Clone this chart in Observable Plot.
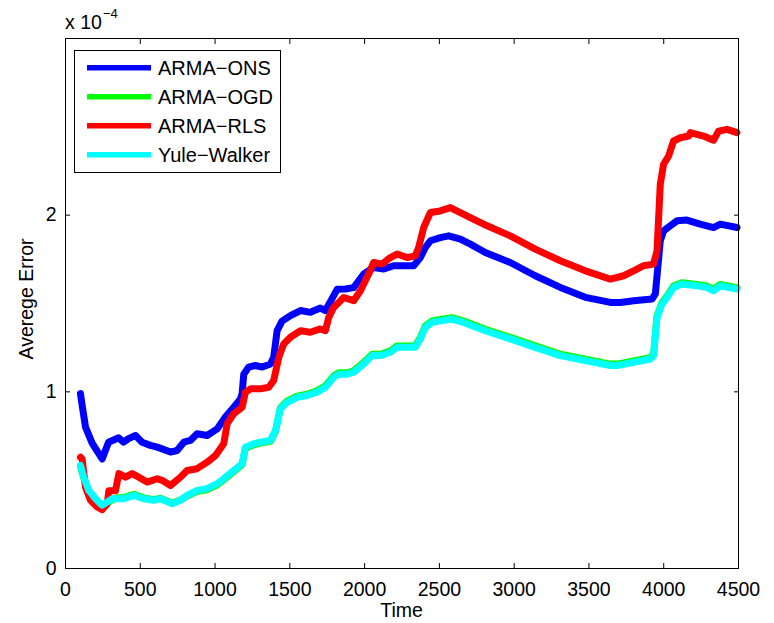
<!DOCTYPE html>
<html>
<head>
<meta charset="utf-8">
<script src="https://cdn.jsdelivr.net/npm/d3@7"></script>
<script src="https://cdn.jsdelivr.net/npm/@observablehq/plot@0.6"></script>
<style>
  html, body { margin: 0; padding: 0; background: #fff; }
  #chart { width: 774px; height: 623px; }
</style>
</head>
<body>
<div id="chart"></div>
<script>
// ---- Data (values in units of 1e-4) ----
const seriesNames = ["ARMA\u2212ONS", "ARMA\u2212OGD", "ARMA\u2212RLS", "Yule\u2212Walker"];
const seriesColors = ["#0000ff", "#00ff00", "#ff0000", "#00ffff"];

const onsX = [100,112,134,178,245,288,355,388,421,468,512,568,613,646,702,746,791,835,880,947,1014,1069,1125,1170,1181,1192,1225,1270,1315,1370,1392,1415,1448,1504,1571,1637,1704,1738,1771,1816,1871,1927,1994,2061,2128,2194,2261,2328,2373,2406,2440,2506,2562,2640,2707,2807,2974,3141,3309,3476,3643,3710,3799,3922,3944,3977,3999,4044,4089,4155,4244,4333,4378,4490];
const onsY = [0.99,0.92,0.80,0.71,0.62,0.715,0.74,0.715,0.735,0.753,0.715,0.697,0.687,0.677,0.659,0.668,0.715,0.725,0.763,0.753,0.79,0.857,0.913,0.96,0.99,1.10,1.14,1.149,1.14,1.158,1.195,1.346,1.40,1.431,1.46,1.45,1.474,1.46,1.51,1.58,1.582,1.59,1.667,1.704,1.695,1.714,1.714,1.714,1.76,1.817,1.855,1.873,1.883,1.864,1.836,1.789,1.732,1.657,1.591,1.535,1.506,1.506,1.516,1.525,1.554,1.855,1.911,1.94,1.968,1.972,1.949,1.93,1.949,1.93];

const ywX = [100,122,156,201,245,279,312,346,390,457,523,590,635,713,769,813,880,947,1014,1058,1125,1181,1203,1259,1303,1370,1404,1437,1482,1548,1615,1682,1738,1793,1827,1883,1927,1994,2050,2106,2172,2217,2284,2339,2373,2406,2451,2518,2584,2662,2807,2974,3141,3309,3476,3643,3688,3799,3910,3932,3955,3988,4022,4066,4122,4222,4289,4333,4378,4490];
const ywY = [0.584,0.517,0.442,0.395,0.358,0.376,0.395,0.395,0.395,0.414,0.395,0.386,0.395,0.367,0.386,0.414,0.442,0.452,0.48,0.508,0.555,0.593,0.687,0.706,0.715,0.725,0.781,0.904,0.941,0.969,0.979,0.998,1.026,1.082,1.10,1.10,1.111,1.158,1.205,1.205,1.224,1.252,1.252,1.252,1.30,1.365,1.393,1.403,1.412,1.393,1.346,1.30,1.252,1.205,1.177,1.149,1.149,1.167,1.186,1.205,1.421,1.497,1.534,1.591,1.61,1.60,1.591,1.572,1.60,1.582];

const ogdX = ywX;
const ogdY = [0.580,0.512,0.437,0.390,0.352,0.368,0.390,0.400,0.402,0.420,0.400,0.390,0.398,0.370,0.388,0.410,0.437,0.446,0.474,0.502,0.549,0.588,0.680,0.700,0.710,0.720,0.776,0.910,0.948,0.976,0.986,1.006,1.034,1.090,1.108,1.108,1.119,1.166,1.213,1.213,1.232,1.260,1.260,1.260,1.308,1.373,1.401,1.411,1.420,1.401,1.354,1.308,1.260,1.213,1.185,1.157,1.157,1.175,1.194,1.213,1.429,1.505,1.542,1.599,1.618,1.608,1.599,1.580,1.608,1.590];

const rlsX = [100,111,134,167,212,245,279,290,334,357,401,446,490,546,613,646,702,769,813,880,947,1003,1058,1081,1125,1181,1203,1237,1303,1359,1392,1426,1459,1504,1571,1637,1704,1738,1760,1793,1827,1860,1927,1972,2027,2061,2117,2172,2217,2284,2339,2361,2395,2440,2506,2573,2640,2707,2796,2974,3141,3309,3476,3643,3732,3799,3866,3932,3955,3977,3999,4033,4066,4111,4166,4178,4266,4333,4367,4423,4490];
const rlsY = [0.63,0.62,0.46,0.386,0.348,0.333,0.367,0.44,0.44,0.537,0.517,0.537,0.517,0.489,0.508,0.499,0.47,0.517,0.555,0.565,0.602,0.64,0.706,0.82,0.876,0.913,0.998,1.017,1.017,1.026,1.064,1.195,1.271,1.309,1.346,1.337,1.356,1.346,1.421,1.478,1.506,1.534,1.516,1.572,1.667,1.732,1.723,1.76,1.78,1.76,1.77,1.817,1.93,2.015,2.024,2.043,2.015,1.986,1.949,1.883,1.808,1.742,1.685,1.638,1.657,1.685,1.714,1.723,1.798,2.175,2.288,2.335,2.42,2.438,2.448,2.467,2.448,2.424,2.476,2.486,2.467];

const xTicks = [0,500,1000,1500,2000,2500,3000,3500,4000,4500];
const yTicks = [0,1,2];
const xLabel = "Time";
const yLabel = "Averege Error";
const exponentBase = "x 10";
const exponentPower = "\u22124";

// ---- Build table ----
const seriesData = [[onsX, onsY], [ogdX, ogdY], [rlsX, rlsY], [ywX, ywY]];
const rows = [];
seriesData.forEach(([xs, ys], i) => {
  xs.forEach((x, j) => rows.push({series: seriesNames[i], x, y: ys[j]}));
});

const FONT = "'Liberation Sans', Arial, Helvetica, sans-serif";

// decorations: labels, exponent, legend (pixel layout)
function decorations(index, scales, values, dims) {
  const g = d3.create("svg:g").attr("font-family", FONT).attr("fill", "black");
  const {marginLeft, width, marginRight} = dims;
  const cx = (marginLeft + width - marginRight) / 2;
  g.append("text").attr("x", cx).attr("y", 617).attr("text-anchor", "middle")
    .attr("font-size", 19.5).text(xLabel);
  g.append("text").attr("transform", `translate(33,299) rotate(-90)`).attr("text-anchor", "middle")
    .attr("font-size", 19.5).text(yLabel);
  g.append("text").attr("x", marginLeft).attr("y", 29).attr("text-anchor", "start")
    .attr("font-size", 19.5).text(exponentBase);
  g.append("text").attr("x", marginLeft + 38).attr("y", 18).attr("text-anchor", "start")
    .attr("font-size", 13).text(exponentPower);
  // legend
  const lg = g.append("g");
  lg.append("rect").attr("x", 74.5).attr("y", 50.5).attr("width", 206).attr("height", 122)
    .attr("fill", "white").attr("stroke", "black").attr("stroke-width", 1);
  seriesNames.forEach((name, i) => {
    const y = 67.7 + 29 * i;
    lg.append("line").attr("x1", 87).attr("x2", 151).attr("y1", y).attr("y2", y)
      .attr("stroke", seriesColors[i]).attr("stroke-width", 5.5);
    lg.append("text").attr("x", 158).attr("y", y + 7.3).attr("text-anchor", "start")
      .attr("font-size", 20).text(name);
  });
  return g.node();
}

const chart = Plot.plot({
  width: 774,
  height: 623,
  marginLeft: 65,
  marginRight: 36,
  marginTop: 38,
  marginBottom: 55,
  style: {fontFamily: FONT, fontSize: "19.5px", background: "white", color: "black"},
  x: {domain: [0, 4500]},
  y: {domain: [0, 3]},
  color: {domain: seriesNames, range: seriesColors},
  marks: [
    Plot.line(rows, {x: "x", y: "y", z: "series", stroke: "series", strokeWidth: 7,
      strokeLinejoin: "round", strokeLinecap: "round"}),
    Plot.frame({stroke: "black", strokeWidth: 1}),
    Plot.axisX({ticks: xTicks, tickSize: 0, tickPadding: 14, label: null, tickFormat: d => String(d)}),
    Plot.axisX({ticks: xTicks, tickSize: -5, text: null, label: null}),
    Plot.axisX({anchor: "top", ticks: xTicks, tickSize: -5, text: null, label: null}),
    Plot.axisY({ticks: yTicks, tickSize: 0, tickPadding: 9, label: null, tickFormat: d => String(d)}),
    Plot.axisY({ticks: yTicks, tickSize: -5, text: null, label: null}),
    Plot.axisY({anchor: "right", ticks: yTicks, tickSize: -5, text: null, label: null}),
    decorations
  ]
});
document.getElementById("chart").appendChild(chart);
</script>
</body>
</html>
